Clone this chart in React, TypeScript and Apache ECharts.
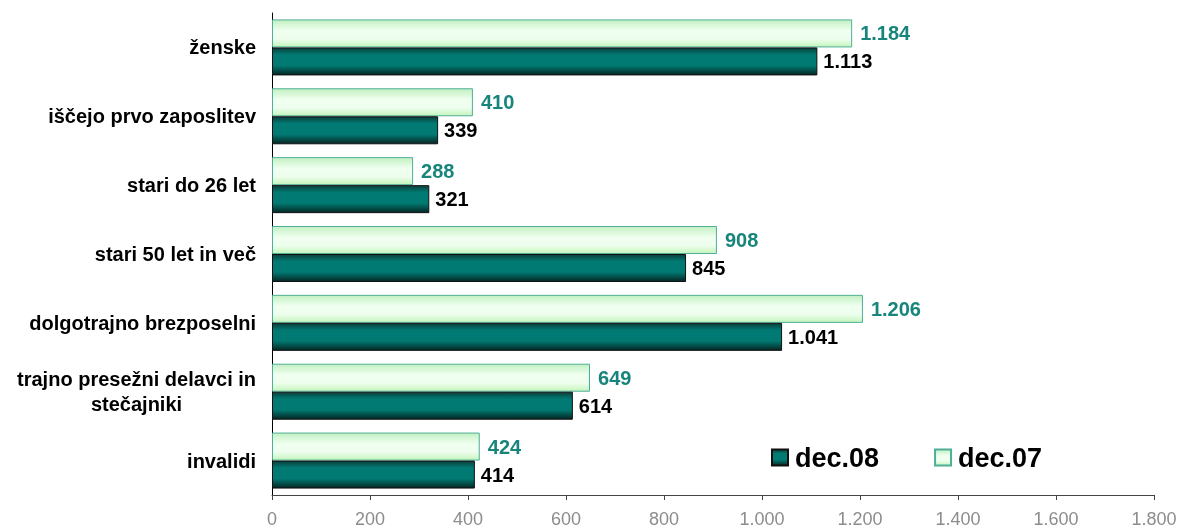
import React, { useEffect, useRef } from "react";
import * as echarts from "echarts";

const categories = [
  "ženske",
  "iščejo prvo zaposlitev",
  "stari do 26 let",
  "stari 50 let in več",
  "dolgotrajno brezposelni",
  "trajno presežni delavci in\nstečajniki",
  "invalidi",
];
const dec08 = [1113, 339, 321, 845, 1041, 614, 414];
const dec07 = [1184, 410, 288, 908, 1206, 649, 424];
const seriesNames = ["dec.08", "dec.07"];
const axisMin = 0;
const axisMax = 1800;
const axisStep = 200;

const FONT = "'Liberation Sans', Arial, sans-serif";

const fmt = (v: number) =>
  String(v).replace(/\B(?=(\d{3})+(?!\d))/g, ".");

export default function App() {
  const ref = useRef<HTMLDivElement>(null);
  useEffect(() => {
    if (!ref.current) return;
    const chart = echarts.init(ref.current, undefined, { renderer: "svg" });
    const darkGrad = new echarts.graphic.LinearGradient(0, 0, 0, 1, [
      { offset: 0, color: "#0b3f3c" },
      { offset: 0.25, color: "#007a72" },
      { offset: 0.65, color: "#007a72" },
      { offset: 1, color: "#052624" },
    ]);
    const lightGrad = new echarts.graphic.LinearGradient(0, 0, 0, 1, [
      { offset: 0, color: "#c2f0c2" },
      { offset: 0.4, color: "#f0fff0" },
      { offset: 0.7, color: "#eefeee" },
      { offset: 1, color: "#c4f5bc" },
    ]);
    chart.setOption({
      animation: false,
      textStyle: { fontFamily: FONT },
      grid: { left: 272, right: 26, top: 13, bottom: 33, containLabel: false },
      legend: {
        data: seriesNames,
        left: 766,
        top: 439,
        icon: "rect",
        itemWidth: 16,
        itemHeight: 16,
        itemGap: 55,
        textStyle: {
          fontFamily: FONT,
          fontSize: 27,
          fontWeight: "bold",
          color: "#000",
          padding: [0, 0, 0, 2],
        },
      },
      xAxis: {
        type: "value",
        min: axisMin,
        max: axisMax,
        interval: axisStep,
        splitLine: { show: false },
        axisLine: { show: true, lineStyle: { color: "#444", width: 1 } },
        axisTick: { show: true, length: 5, lineStyle: { color: "#444" } },
        axisLabel: {
          color: "#8c8c8c",
          fontSize: 18,
          fontFamily: FONT,
          margin: 15,
          formatter: (v: number) => fmt(v),
        },
      },
      yAxis: {
        type: "category",
        data: categories,
        inverse: true,
        axisLine: { show: true, lineStyle: { color: "#000", width: 1 } },
        axisTick: { show: false },
        axisLabel: {
          margin: 16,
          formatter: (v: string) =>
            v
              .split("\n")
              .map((l) => `{c|${l}}`)
              .join("\n"),
          rich: {
            c: {
              fontFamily: FONT,
              fontSize: 20,
              fontWeight: "bold",
              color: "#000",
              align: "center",
              lineHeight: 25,
            },
          },
        },
      },
      series: [
        {
          name: "dec.07",
          type: "bar",
          data: dec07,
          barWidth: 28,
          barGap: "0%",
          itemStyle: { color: lightGrad, borderColor: "#4fae98", borderWidth: 1 },
          label: {
            show: true,
            position: "right",
            distance: 8,
            color: "#17857c",
            fontSize: 20,
            fontWeight: "bold",
            fontFamily: FONT,
            formatter: (p: any) => fmt(p.value),
          },
        },
        {
          name: "dec.08",
          type: "bar",
          data: dec08,
          barWidth: 28,
          barGap: "0%",
          itemStyle: { color: darkGrad, borderColor: "#111", borderWidth: 1 },
          label: {
            show: true,
            position: "right",
            distance: 6,
            color: "#000",
            fontSize: 20,
            fontWeight: "bold",
            fontFamily: FONT,
            formatter: (p: any) => fmt(p.value),
          },
        },
      ],
    });
    return () => chart.dispose();
  }, []);
  return (
    <div
      ref={ref}
      style={{ position: "fixed", left: 0, top: 0, width: 1180, height: 528 }}
    />
  );
}
